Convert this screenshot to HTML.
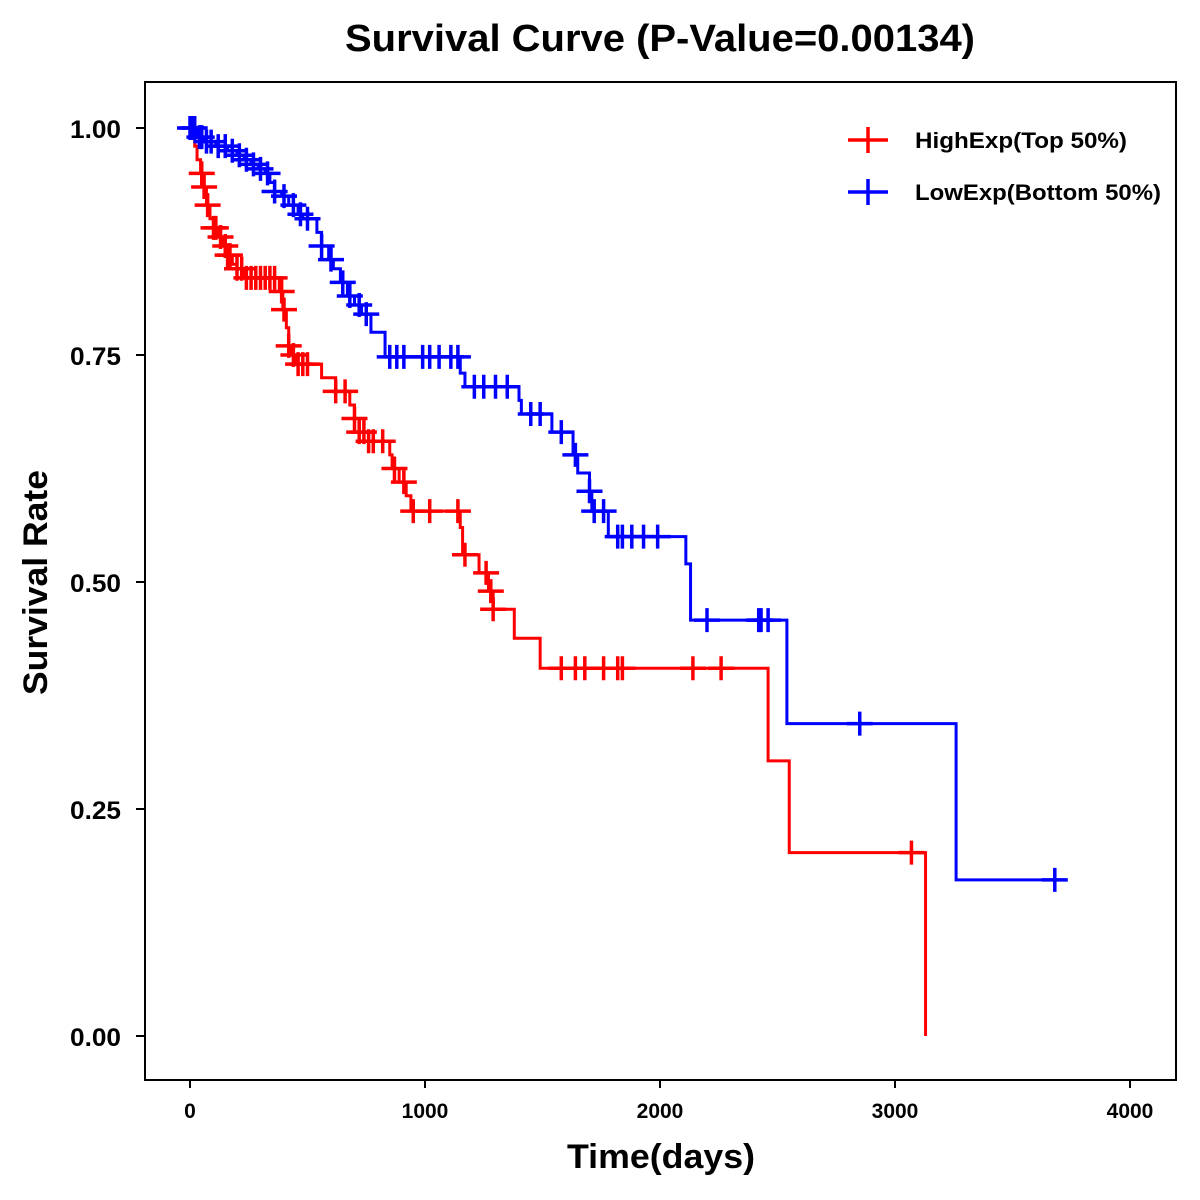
<!DOCTYPE html>
<html><head><meta charset="utf-8">
<style>
html,body{margin:0;padding:0;background:#fff;}
svg{display:block;font-family:"Liberation Sans",Arial,sans-serif;font-weight:bold;}
</style></head>
<body>
<svg id="chart" width="1200" height="1200" viewBox="0 0 1200 1200" xmlns="http://www.w3.org/2000/svg">
<rect width="1200" height="1200" fill="#fff"/>
<text x="345" y="51" font-size="38" textLength="630" lengthAdjust="spacingAndGlyphs">Survival Curve (P-Value=0.00134)</text>
<rect x="145" y="82" width="1031" height="998" fill="none" stroke="#000" stroke-width="2"/>
<g id="axes"></g>
<g id="series"></g>
<text x="567" y="1168" font-size="34" textLength="188" lengthAdjust="spacingAndGlyphs">Time(days)</text>
<text transform="translate(47,695) rotate(-90)" font-size="34" textLength="225" lengthAdjust="spacingAndGlyphs">Survival Rate</text>
<g>
<g>
<line x1="848" y1="140" x2="888" y2="140" stroke="#ff0000" stroke-width="3.5"/>
<line x1="868" y1="127" x2="868" y2="153" stroke="#ff0000" stroke-width="3.5"/>
<text x="915" y="148" font-size="22" textLength="212" lengthAdjust="spacingAndGlyphs">HighExp(Top 50%)</text>
</g>
<g>
<line x1="848" y1="192" x2="888" y2="192" stroke="#0000ff" stroke-width="3.5"/>
<line x1="868" y1="179" x2="868" y2="205" stroke="#0000ff" stroke-width="3.5"/>
<text x="915" y="200" font-size="22" textLength="246" lengthAdjust="spacingAndGlyphs">LowExp(Bottom 50%)</text>
</g>
</g>
</svg>
<script>
const xTicks=[0,1000,2000,3000,4000];
const yTicks=[0,0.25,0.5,0.75,1.0];
const yTickLabels=["0.00","0.25","0.50","0.75","1.00"];
const highTimes=[0,20,30,45,55,70,85,100,120,140,160,180,200,230,380,395,410,420,430,450,560,620,680,700,720,760,850,860,890,920,940,1150,1160,1230,1270,1290,1380,1490,2460,2550,3130];
const highSurv=[1.0,0.98,0.965,0.95,0.935,0.915,0.90,0.89,0.88,0.87,0.86,0.85,0.845,0.835,0.82,0.80,0.78,0.76,0.75,0.74,0.725,0.71,0.695,0.68,0.665,0.655,0.64,0.625,0.61,0.595,0.578,0.56,0.53,0.51,0.49,0.47,0.438,0.405,0.303,0.202,0.0];
const highEnd=3130;
const highCensor=[50,60,75,100,110,130,150,160,170,200,220,240,260,280,300,320,340,360,390,400,420,440,460,480,500,620,660,700,720,740,760,780,820,870,910,950,1020,1140,1170,1260,1280,1290,1580,1640,1680,1760,1820,1840,2140,2260,3070];
const lowTimes=[0,30,60,110,160,200,230,260,290,320,340,360,390,420,460,480,540,560,590,610,640,670,700,730,770,830,1150,1170,1400,1410,1540,1630,1650,1700,1710,1780,2110,2130,2540,3260];
const lowSurv=[1.0,0.99,0.985,0.98,0.975,0.97,0.965,0.96,0.955,0.95,0.94,0.93,0.925,0.915,0.905,0.9,0.885,0.87,0.855,0.845,0.83,0.815,0.805,0.795,0.775,0.748,0.73,0.715,0.70,0.685,0.665,0.64,0.62,0.60,0.578,0.55,0.52,0.458,0.344,0.172];
const lowEnd=3720;
const lowCensor=[0,10,20,40,50,70,90,120,150,180,210,240,270,300,330,360,400,440,470,500,560,600,650,680,720,750,850,880,910,990,1020,1060,1110,1140,1210,1250,1300,1350,1450,1490,1580,1640,1700,1720,1760,1820,1840,1880,1930,1990,2200,2420,2430,2460,2850,3680];

const NS="http://www.w3.org/2000/svg";
function xs(d){return 190+d*0.235;}
function ys(v){return 1036-v*908;}
function mk(tag,attrs,parent){const e=document.createElementNS(NS,tag);for(const k in attrs)e.setAttribute(k,attrs[k]);parent.appendChild(e);return e;}
const axes=document.getElementById('axes');
xTicks.forEach(t=>{
  const l=mk('line',{x1:xs(t),x2:xs(t),y1:1080,y2:1088,stroke:'#000','stroke-width':2},axes);
  
  
  const tx=mk('text',{x:xs(t),y:1118,'font-size':21,'text-anchor':'middle'},axes);
  tx.textContent=String(t);
  
  
});
yTicks.forEach((t,i)=>{
  const l=mk('line',{x1:136,x2:145,y1:ys(t),y2:ys(t),stroke:'#000','stroke-width':2},axes);
  
  
  const tx=mk('text',{x:70,y:ys(t)+10,'font-size':25,textLength:51,lengthAdjust:'spacingAndGlyphs'},axes);
  tx.textContent=yTickLabels[i];
  
  
});
function survAt(times,surv,t){let v=surv[0];for(let i=0;i<times.length;i++){if(times[i]<=t)v=surv[i];}return v;}
function draw(times,surv,end,cens,color,name){
  const g=mk('g',{},document.getElementById('series'));
  
  
  let d='M'+xs(times[0])+','+ys(surv[0]);
  for(let i=1;i<times.length;i++){d+=' H'+xs(times[i])+' V'+ys(surv[i]);}
  d+=' H'+xs(end);
  const p=mk('path',{d:d,fill:'none',stroke:color,'stroke-width':3},g);
  
  
  cens.forEach(c=>{
    const v=survAt(times,surv,c);const cx=xs(c),cy=ys(v);
    const m=mk('path',{d:'M'+(cx-13)+','+cy+' H'+(cx+13)+' M'+cx+','+(cy-12)+' V'+(cy+12),stroke:color,'stroke-width':3.5,fill:'none'},g);
    
    
  });
}
draw(highTimes,highSurv,highEnd,highCensor,'#ff0000','high-exp');
draw(lowTimes,lowSurv,lowEnd,lowCensor,'#0000ff','low-exp');
</script>
</body></html>
